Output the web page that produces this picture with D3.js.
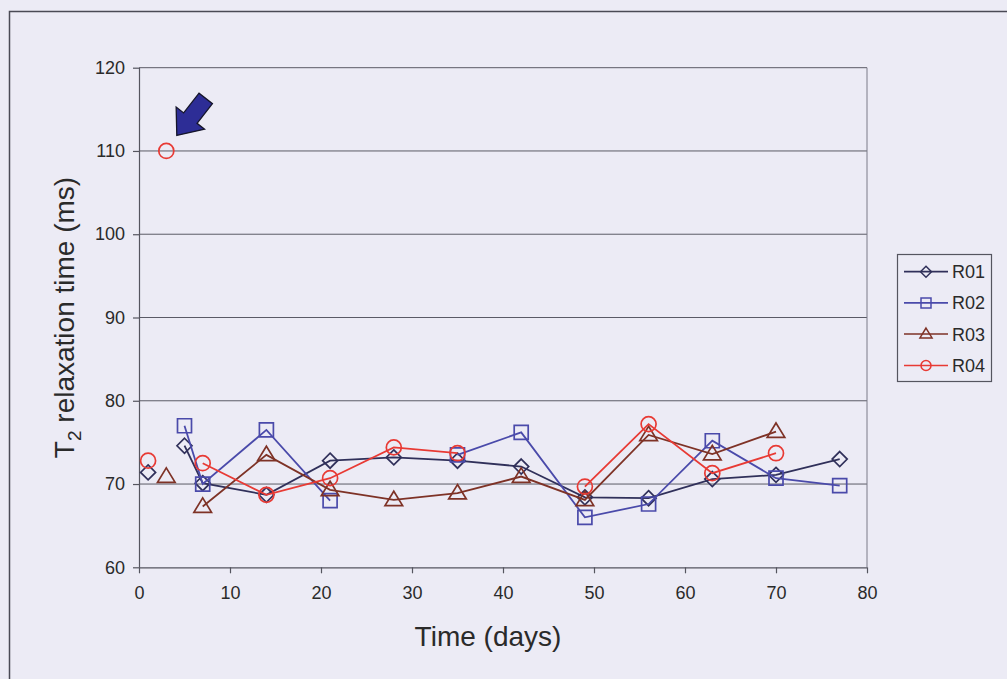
<!DOCTYPE html>
<html>
<head>
<meta charset="utf-8">
<script src="https://cdn.jsdelivr.net/npm/d3@7"></script>
<style>
  html, body { margin: 0; padding: 0; background: #ecebf5; }
  svg { display: block; }
  text { font-family: "Liberation Sans", Arial, sans-serif; fill: #2a2a2a; }
</style>
</head>
<body>
<svg id="chart" width="1007" height="679"></svg>
<script>
// ---- data ----
const days = [1, 3, 5, 7, 14, 21, 28, 35, 42, 49, 56, 63, 70, 77];
const seriesNames = ["R01", "R02", "R03", "R04"];
const r01 = [71.4, null, 74.6, 70.1, 68.7, 72.8, 73.2, 72.8, 72.1, 68.4, 68.3, 70.6, 71.1, 73.0];
const r02 = [null, null, 77.0, 70.0, 76.5, 68.0, null, 73.5, 76.2, 66.0, 67.6, 75.2, 70.7, 69.8];
const r03 = [null, 70.9, null, 67.3, 73.5, 69.3, 68.1, 68.9, 70.9, 68.1, 75.9, 73.6, 76.3, null];
const r04 = [72.8, null, null, 72.5, 68.7, 70.7, 74.4, 73.7, null, 69.7, 77.2, 71.3, 73.7, null];
const r04OutlierDay = [3];
const r04OutlierValue = [110];
const xTicks = [0, 10, 20, 30, 40, 50, 60, 70, 80];
const yTicks = [60, 70, 80, 90, 100, 110, 120];
const xTitle = "Time (days)";

// ---- styles ----
const colors = ["#30305a", "#4a4aaa", "#7e3226", "#e83a34"];
const shapes = ["diamond", "square", "triangle", "circle"];
const allValues = [r01, r02, r03, r04];

const svg = d3.select("#chart");
const W = 1007, H = 679;
svg.append("rect").attr("width", W).attr("height", H).attr("fill", "#ecebf5");

// outer frame (scanned box)
svg.append("path")
  .attr("d", `M9.5,${H} L9.5,11.5 L${W},11.5`)
  .attr("fill", "none").attr("stroke", "#4a4a55").attr("stroke-width", 1.5);

const plot = { left: 139, right: 867, top: 67.7, bottom: 567.3 };
const x = d3.scaleLinear().domain([0, 80]).range([plot.left, plot.right]);
const y = d3.scaleLinear().domain([60, 120]).range([plot.bottom, plot.top]);

// gridlines
svg.append("g").selectAll("line").data(yTicks.filter(t => t > 60)).join("line")
  .attr("x1", plot.left).attr("x2", plot.right)
  .attr("y1", d => y(d)).attr("y2", d => y(d))
  .attr("stroke", "#5a5a66").attr("stroke-width", 1);
// right border
svg.append("line").attr("x1", plot.right).attr("x2", plot.right)
  .attr("y1", plot.top).attr("y2", plot.bottom)
  .attr("stroke", "#7a7a88").attr("stroke-width", 1);

// axes
const yAxis = d3.axisLeft(y).tickValues(yTicks).tickSize(6).tickPadding(8);
const gy = svg.append("g").attr("transform", `translate(${plot.left},0)`).call(yAxis);
const xAxis = d3.axisBottom(x).tickValues(xTicks).tickSize(6).tickPadding(13);
const gx = svg.append("g").attr("transform", `translate(0,${plot.bottom})`).call(xAxis);
[gx, gy].forEach(g => {
  g.select(".domain").attr("stroke", "#55555f").attr("stroke-width", 1.2);
  g.selectAll(".tick line").attr("stroke", "#55555f").attr("stroke-width", 1.2);
  g.selectAll(".tick text").attr("font-size", 18).attr("fill", "#2a2a2a")
    .attr("font-family", "'Liberation Sans', Arial, sans-serif");
});
gx.select(".domain").attr("d", `M${plot.left},0.5H${plot.right}`);
gy.select(".domain").attr("d", `M0.5,${plot.bottom}V${plot.top}`);

// axis titles
svg.append("text").attr("x", 488).attr("y", 646)
  .attr("text-anchor", "middle").attr("font-size", 28).text(xTitle);
const yt = svg.append("text")
  .attr("transform", `translate(74,${(plot.top + plot.bottom) / 2}) rotate(-90)`)
  .attr("text-anchor", "middle").attr("font-size", 28);
yt.append("tspan").text("T");
yt.append("tspan").attr("font-size", 19).attr("dy", 7).text("2");
yt.append("tspan").attr("dy", -7).text(" relaxation time (ms)");

// marker paths
function markerPath(shape, s) {
  if (shape === "diamond") return `M0,${-s}L${s},0L0,${s}L${-s},0Z`;
  if (shape === "square") return `M${-s},${-s}H${s}V${s}H${-s}Z`;
  if (shape === "triangle") { const h = s * 1.8; return `M0,${-h * 0.6}L${s * 1.1},${h * 0.4}L${-s * 1.1},${h * 0.4}Z`; }
  return "";
}
function drawMarker(g, shape, cx, cy, s, color, sw) {
  if (shape === "circle") {
    g.append("circle").attr("cx", cx).attr("cy", cy).attr("r", s)
      .attr("fill", "none").attr("stroke", color).attr("stroke-width", sw);
  } else {
    g.append("path").attr("d", markerPath(shape, s))
      .attr("transform", `translate(${cx},${cy})`)
      .attr("fill", "none").attr("stroke", color).attr("stroke-width", sw);
  }
}

const line = d3.line().defined(d => d.v != null).x(d => x(d.day)).y(d => y(d.v));
const sizes = { diamond: 7.5, square: 7, triangle: 8, circle: 7.5 };

allValues.forEach((vals, i) => {
  const data = days.map((day, j) => ({ day, v: vals[j] }));
  const g = svg.append("g");
  g.append("path").datum(data).attr("d", line)
    .attr("fill", "none").attr("stroke", colors[i]).attr("stroke-width", 1.8);
  data.filter(d => d.v != null).forEach(d =>
    drawMarker(g, shapes[i], x(d.day), y(d.v), sizes[shapes[i]], colors[i], 1.7));
  if (i === 3) {
    r04OutlierDay.forEach((day, k) =>
      drawMarker(g, "circle", x(day), y(r04OutlierValue[k]), sizes.circle, colors[i], 1.7));
  }
});

// arrow pointing at the outlier
(function () {
  const tipX = x(r04OutlierDay[0]) + 10.5, tipY = y(r04OutlierValue[0]) - 15.5;
  // arrow pointing along +x in local coords, then rotated to point down-left
  const pts = [[0, 0], [-22, -18], [-22, -8.5], [-47, -8.5], [-47, 8.5], [-22, 8.5], [-22, 18]];
  svg.append("path")
    .attr("d", "M" + pts.map(p => p.join(",")).join("L") + "Z")
    .attr("transform", `translate(${tipX},${tipY}) rotate(128)`)
    .attr("fill", "#2d2d96").attr("stroke", "#15152a").attr("stroke-width", 1.3)
    .attr("stroke-linejoin", "miter");
})();

// legend
const lg = svg.append("g");
lg.append("rect").attr("x", 897.5).attr("y", 254.5).attr("width", 94).attr("height", 127)
  .attr("fill", "none").attr("stroke", "#55555f").attr("stroke-width", 1.2);
const legendY = [271.7, 302.9, 334, 365.5];
seriesNames.forEach((name, i) => {
  const yy = legendY[i];
  lg.append("line").attr("x1", 904).attr("x2", 948).attr("y1", yy).attr("y2", yy)
    .attr("stroke", colors[i]).attr("stroke-width", 1.7);
  const ls = { diamond: 5.5, square: 5, triangle: 5.5, circle: 5 }[shapes[i]];
  drawMarker(lg, shapes[i], 926, yy, ls, colors[i], 1.5);
  lg.append("text").attr("x", 952).attr("y", yy + 6.5).attr("font-size", 18).text(name);
});
</script>
</body>
</html>
